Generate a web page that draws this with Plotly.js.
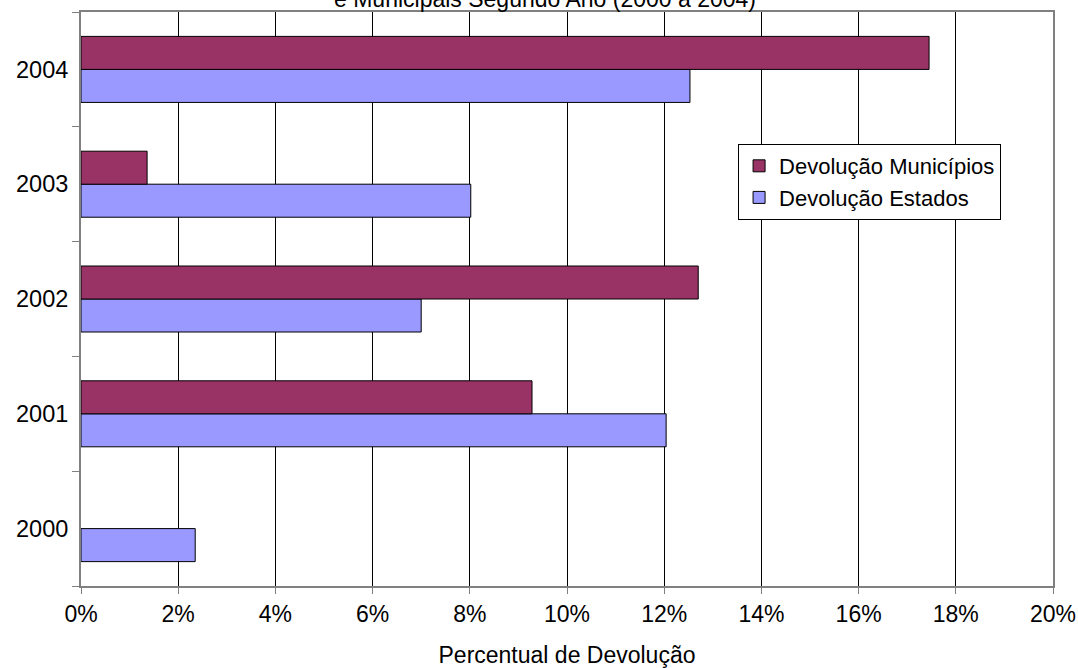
<!DOCTYPE html>
<html>
<head>
<meta charset="utf-8">
<script src="https://cdn.plot.ly/plotly-3.0.1.min.js"></script>
<style>html,body{margin:0;padding:0;background:#fff;}#chart{width:1078px;height:668px;}</style>
</head>
<body>
<div id="chart"></div>
<script>
const years = ['2000', '2001', '2002', '2003', '2004'];
const devolucaoMunicipios = [null, 0.0928, 0.127, 0.0136, 0.1745];
const devolucaoEstados = [0.0235, 0.1204, 0.070, 0.0802, 0.1253];
const xTickValues = [0, 0.02, 0.04, 0.06, 0.08, 0.10, 0.12, 0.14, 0.16, 0.18, 0.20];
const xTickLabels = ['0%', '2%', '4%', '6%', '8%', '10%', '12%', '14%', '16%', '18%', '20%'];
const titleText = 'e Municipais Segundo Ano (2000 a 2004)';

const font = 'Liberation Sans, Arial, sans-serif';

const traces = [
  {
    type: 'bar', orientation: 'h', name: 'Devolução Estados',
    y: years, x: devolucaoEstados,
    marker: {color: '#9999FF', line: {color: '#000', width: 1}},
    hoverinfo: 'x+y'
  },
  {
    type: 'bar', orientation: 'h', name: 'Devolução Municípios',
    y: years, x: devolucaoMunicipios,
    marker: {color: '#993366', line: {color: '#000', width: 1}},
    hoverinfo: 'x+y'
  }
];

const layout = {
  width: 1078, height: 668,
  margin: {l: 81, r: 25, t: 12, b: 82},
  paper_bgcolor: '#fff', plot_bgcolor: '#fff',
  font: {family: font, size: 23, color: '#000'},
  barmode: 'group', bargap: 0.425, bargroupgap: 0,
  showlegend: true,
  legend: {
    x: 0.676, y: 0.77, xanchor: 'left', yanchor: 'top',
    bordercolor: '#000', borderwidth: 1, bgcolor: '#fff',
    traceorder: 'reversed',
    font: {family: font, size: 22, color: '#000'},
    itemclick: false, tracegroupgap: 0
  },
  xaxis: {
    range: [0, 0.2], tickvals: xTickValues, ticktext: xTickLabels,
    showgrid: true, gridcolor: '#000', gridwidth: 1,
    showline: true, linecolor: '#808080', linewidth: 2, mirror: true,
    ticks: 'outside', ticklen: 6, tickcolor: '#808080', tickwidth: 1,
    zeroline: false,
    tickfont: {family: font, size: 23, color: '#000'},
    title: {text: 'Percentual de Devolução', font: {family: font, size: 23, color: '#000'}, standoff: 22}
  },
  yaxis: {
    type: 'category', categoryorder: 'array', categoryarray: years,
    showgrid: false,
    showline: true, linecolor: '#808080', linewidth: 2, mirror: true,
    ticks: 'outside', tickson: 'boundaries', ticklen: 7, tickcolor: '#808080', tickwidth: 1,
    zeroline: false,
    tickfont: {family: font, size: 23.5, color: '#000'},
    ticklabelstandoff: 6
  },
  annotations: [
    {
      text: titleText, xref: 'paper', yref: 'paper', x: 0.477, y: 1,
      xanchor: 'center', yanchor: 'bottom', yshift: -2, showarrow: false,
      font: {family: font, size: 23, color: '#000'}
    }
  ]
};

Plotly.newPlot('chart', traces, layout, {displayModeBar: false, staticPlot: true});
</script>
</body>
</html>
